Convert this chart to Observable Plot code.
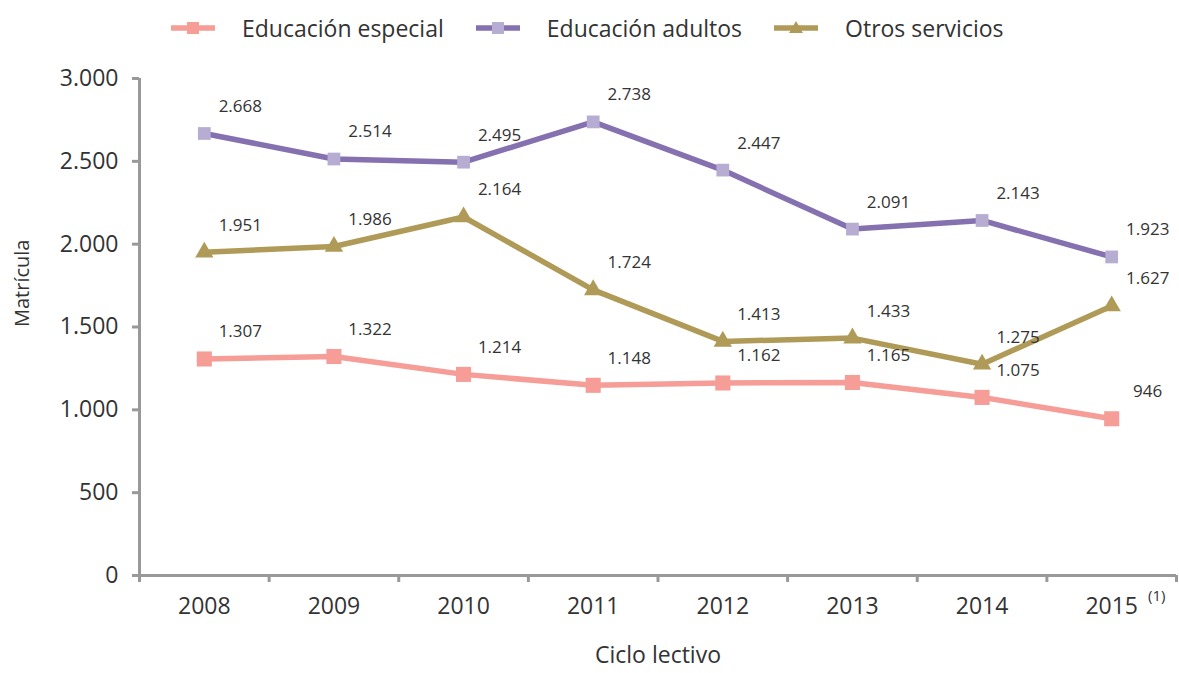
<!DOCTYPE html>
<html>
<head>
<meta charset="utf-8">
<script src="https://cdn.jsdelivr.net/npm/d3@7"></script>
<script src="https://cdn.jsdelivr.net/npm/@observablehq/plot@0.6"></script>
<style>
  html, body { margin: 0; padding: 0; background: white; }
  body { width: 1179px; height: 673px; overflow: hidden; font-family: "Open Sans", sans-serif; color: #333; }
  #legend { height: 55px; display: flex; align-items: center; padding-left: 171px; font-size: 23px; color: #333; }
  .item { display: flex; align-items: center; margin-right: 32px; }
  .item svg { margin-right: 27px; }
</style>
</head>
<body>
<div id="legend"></div>
<div id="chart"></div>
<script>
const years = [2008, 2009, 2010, 2011, 2012, 2013, 2014, 2015];
const especial = [1307, 1322, 1214, 1148, 1162, 1165, 1075, 946];
const adultos = [2668, 2514, 2495, 2738, 2447, 2091, 2143, 1923];
const otros = [1951, 1986, 2164, 1724, 1413, 1433, 1275, 1627];
const seriesNames = ["Educación especial", "Educación adultos", "Otros servicios"];
const yTicks = [0, 500, 1000, 1500, 2000, 2500, 3000];

const styles = [
  {line: "#F59D96", marker: "#F59D96", symbol: "square", r: 8.5},
  {line: "#8571AF", marker: "#B7ADD2", symbol: "square", r: 7.2},
  {line: "#B09A58", marker: "#B09A58", symbol: "triangle", r: 6.8}
];

const locale = d3.formatLocale({decimal: ",", thousands: ".", grouping: [3], currency: ["", "€"]});
const fmt = locale.format(",d");

const seriesValues = [especial, adultos, otros];
const tables = seriesValues.map((vals, i) => years.map((y, j) => ({year: y, value: vals[j], series: seriesNames[i]})));

// legend
const legend = document.getElementById("legend");
seriesNames.forEach((name, i) => {
  const s = styles[i];
  const item = document.createElement("div");
  item.className = "item";
  let marker;
  if (s.symbol === "square") {
    marker = `<rect x="16" y="4" width="12" height="12" fill="${s.marker}"/>`;
  } else {
    marker = `<path d="M22,3 L29,15 L15,15 Z" fill="${s.marker}"/>`;
  }
  item.innerHTML = `<svg width="44" height="20"><line x1="0" x2="44" y1="10" y2="10" stroke="${s.line}" stroke-width="5.5"/>${marker}</svg><span>${name}</span>`;
  legend.appendChild(item);
});

const bounds = years.map(y => y - 0.5).concat([years[years.length - 1] + 0.5]);
const x0 = bounds[0], x1 = bounds[bounds.length - 1];

const marks = [
  Plot.axisY({ticks: yTicks, tickSize: 7, stroke: "#999", strokeWidth: 3, tickFormat: () => "", label: null}),
  Plot.axisY({ticks: yTicks, tickSize: 0, tickPadding: 21, tickFormat: fmt, fontSize: 23, fill: "#333", label: null}),
  Plot.axisX({ticks: bounds, tickSize: 7, stroke: "#999", strokeWidth: 3, tickFormat: () => "", label: null}),
  Plot.axisX({ticks: years, tickSize: 0, tickPadding: 22, tickFormat: d => String(d), fontSize: 23, fill: "#333", label: null}),
  Plot.ruleY([0], {x1: x0, x2: x1, stroke: "#999", strokeWidth: 3}),
  Plot.ruleX([x0], {y1: 0, y2: 3000, stroke: "#999", strokeWidth: 3}),
  Plot.text(["Matrícula"], {frameAnchor: "left", rotate: -90, dx: -117, fontSize: 20, fill: "#333"}),
  Plot.text(["Ciclo lectivo"], {frameAnchor: "bottom", dy: 87, fontSize: 23, fill: "#333"}),
  Plot.text(["(1)"], {x: [years[years.length - 1]], y: [0], dx: 45, dy: 21, fontSize: 15, fill: "#333"})
];

tables.forEach((data, i) => {
  const s = styles[i];
  marks.push(Plot.line(data, {x: "year", y: "value", stroke: s.line, strokeWidth: 5.5}));
  marks.push(Plot.dot(data, {x: "year", y: "value", symbol: s.symbol, r: s.r, fill: s.marker, stroke: "none"}));
});
tables.forEach((data) => {
  marks.push(Plot.text(data, {x: "year", y: "value", text: d => fmt(d.value), dx: 36, dy: -27, fontSize: 17, fill: "#333"}));
});

const chart = Plot.plot({
  width: 1179,
  height: 618,
  marginLeft: 139,
  marginRight: 3,
  marginTop: 23,
  marginBottom: 98,
  x: {type: "linear", domain: [x0, x1]},
  y: {domain: [0, 3000]},
  style: {fontFamily: "'Open Sans', sans-serif", color: "#333", background: "white", overflow: "visible"},
  marks
});
document.getElementById("chart").appendChild(chart);
</script>
</body>
</html>
